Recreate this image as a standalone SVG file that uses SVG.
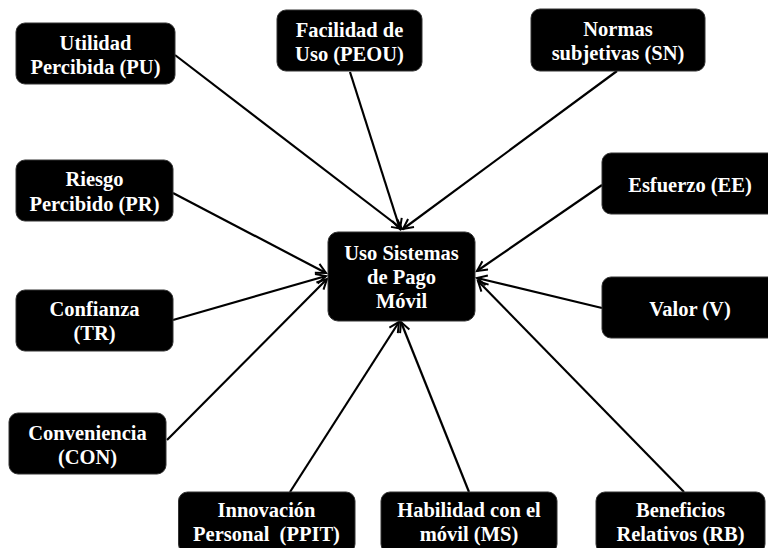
<svg xmlns="http://www.w3.org/2000/svg" width="768" height="548" viewBox="0 0 768 548">
<defs>
<style>
.box{fill:#000;stroke:#333;stroke-width:1}
.t{font-weight:bold;font-size:20.5px;fill:#fff;text-anchor:middle}
.c{stroke:#000;stroke-width:2.2;fill:none;marker-end:url(#arr)}
</style>
<marker id="arr" markerUnits="userSpaceOnUse" markerWidth="14" markerHeight="14" refX="11" refY="6" orient="auto">
<path d="M1,1 L11,6 L1,11" fill="none" stroke="#000" stroke-width="2"/>
</marker>
</defs>
<rect width="768" height="548" fill="#fff"/>
<g id="connectors">
<line class="c" x1="175" y1="55" x2="402" y2="229"/>
<line class="c" x1="350" y1="72" x2="400" y2="229"/>
<line class="c" x1="617" y1="71" x2="403" y2="229"/>
<line class="c" x1="173" y1="193" x2="326" y2="273"/>
<line class="c" x1="173" y1="320" x2="326" y2="276"/>
<line class="c" x1="167" y1="440" x2="327" y2="279"/>
<line class="c" x1="602" y1="185" x2="477" y2="271"/>
<line class="c" x1="602" y1="308" x2="477" y2="278"/>
<line class="c" x1="684" y1="492" x2="478" y2="281"/>
<line class="c" x1="469" y1="492" x2="401" y2="322"/>
<line class="c" x1="290" y1="492" x2="399" y2="322"/>
</g>
<g font-family="Liberation Serif, Times New Roman, serif">
<g id="PU"><rect class="box" x="16" y="23" width="159" height="61" rx="9"/>
<text class="t" x="95.5" y="49.5">Utilidad</text><text class="t" x="95.5" y="73.5">Percibida (PU)</text></g>
<g id="PEOU"><rect class="box" x="277" y="10" width="145" height="61" rx="9"/>
<text class="t" x="349.5" y="36.5">Facilidad de</text><text class="t" x="349.5" y="60.5">Uso (PEOU)</text></g>
<g id="SN"><rect class="box" x="531" y="9" width="174" height="62" rx="9"/>
<text class="t" x="618" y="35.5">Normas</text><text class="t" x="618" y="59.5">subjetivas (SN)</text></g>
<g id="PR"><rect class="box" x="16" y="160" width="157" height="61" rx="9"/>
<text class="t" x="94.5" y="186">Riesgo</text><text class="t" x="94.5" y="210.5">Percibido (PR)</text></g>
<g id="EE"><rect class="box" x="602" y="153" width="176" height="61" rx="9"/>
<text class="t" x="690" y="191.5">Esfuerzo (EE)</text></g>
<g id="USO"><rect class="box" x="328" y="232" width="147" height="89" rx="10"/>
<text class="t" x="401.5" y="259.5">Uso Sistemas</text><text class="t" x="401.5" y="283.5">de Pago</text><text class="t" x="401.5" y="308">Móvil</text></g>
<g id="TR"><rect class="box" x="16" y="290" width="157" height="61" rx="9"/>
<text class="t" x="94.5" y="316">Confianza</text><text class="t" x="94.5" y="340">(TR)</text></g>
<g id="V"><rect class="box" x="602" y="277" width="176" height="61" rx="9"/>
<text class="t" x="690" y="315.5">Valor (V)</text></g>
<g id="CON"><rect class="box" x="9" y="413" width="157" height="61" rx="9"/>
<text class="t" x="87.5" y="439.5">Conveniencia</text><text class="t" x="87.5" y="463.5">(CON)</text></g>
<g id="PPIT"><rect class="box" x="178.5" y="492" width="176.5" height="61" rx="9"/>
<text class="t" x="266.5" y="517">Innovación</text><text class="t" x="266.5" y="541">Personal&#160; (PPIT)</text></g>
<g id="MS"><rect class="box" x="381" y="492" width="176" height="61" rx="9"/>
<text class="t" x="469" y="517">Habilidad con el</text><text class="t" x="469" y="541">móvil (MS)</text></g>
<g id="RB"><rect class="box" x="596" y="492" width="169" height="61" rx="9"/>
<text class="t" x="680.5" y="517">Beneficios</text><text class="t" x="680.5" y="541">Relativos (RB)</text></g>
</g>
</svg>
